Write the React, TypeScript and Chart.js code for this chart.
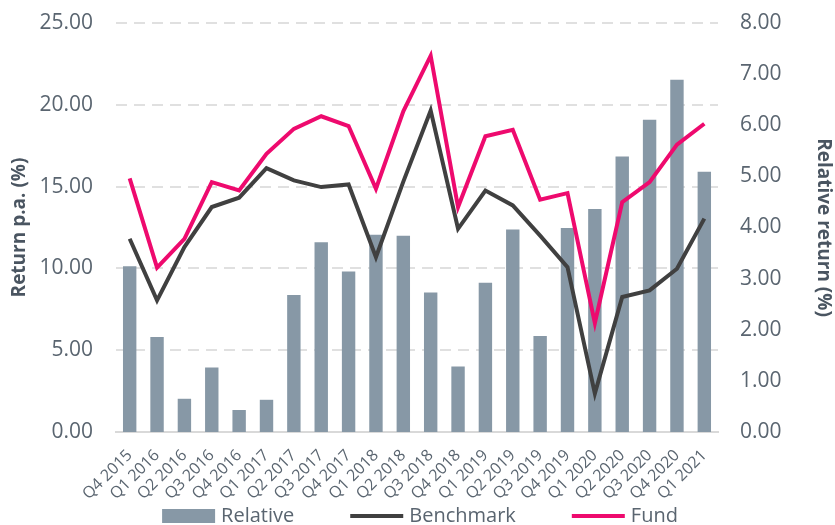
import React, { useEffect, useRef } from "react";
import { Chart, registerables } from "chart.js";

Chart.register(...registerables);

const categories = [
  "Q4 2015", "Q1 2016", "Q2 2016", "Q3 2016", "Q4 2016", "Q1 2017", "Q2 2017", "Q3 2017",
  "Q4 2017", "Q1 2018", "Q2 2018", "Q3 2018", "Q4 2018", "Q1 2019", "Q2 2019", "Q3 2019",
  "Q4 2019", "Q1 2020", "Q2 2020", "Q3 2020", "Q4 2020", "Q1 2021",
];

const relative = [
  3.24, 1.86, 0.65, 1.26, 0.43, 0.63, 2.68, 3.71, 3.14, 3.86, 3.84, 2.73, 1.28, 2.92, 3.96,
  1.88, 3.99, 4.36, 5.39, 6.11, 6.89, 5.09,
];

const benchmark = [
  11.81, 8.05, 11.3, 13.75, 14.32, 16.13, 15.38, 14.97, 15.13, 10.69, 15.3, 19.65, 12.42,
  14.76, 13.85, 12.0, 10.08, 2.35, 8.25, 8.66, 9.98, 13.04,
];

const fund = [
  15.5, 10.05, 11.8, 15.27, 14.76, 17.0, 18.53, 19.3, 18.7, 14.87, 19.6, 23.0, 13.75, 18.08,
  18.47, 14.2, 14.6, 6.66, 14.05, 15.27, 17.57, 18.84,
];

const leftTicks = { min: 0, max: 25, step: 5 };
const rightTicks = { min: 0, max: 8, step: 1 };

const BAR_COLOR = "#8798a6";
const BENCH_COLOR = "#404040";
const FUND_COLOR = "#ee0a6e";
const TEXT_COLOR = "#5a6570";
const TITLE_COLOR = "#4a5561";
const FONT = '"Open Sans", "Noto Sans", sans-serif';

const legendPlugin = {
  id: "customLegend",
  afterDraw(chart: any) {
    const ctx = chart.ctx;
    ctx.save();
    ctx.font = `20px ${FONT}`;
    const items = chart.data.datasets.map((d: any) => ({
      label: d.label,
      type: d.type,
      color: d.type === "bar" ? d.backgroundColor : d.borderColor,
    }));
    const sw = 53;
    const g = 6;
    const gap = 56;
    const widths = items.map((it: any) => sw + g + ctx.measureText(it.label).width);
    const total = widths.reduce((a: number, b: number) => a + b, 0) + gap * (items.length - 1);
    let x = 420 - total / 2;
    const y = 516;
    items.forEach((it: any, i: number) => {
      if (it.type === "bar") {
        ctx.fillStyle = it.color;
        ctx.fillRect(x, y - 7, sw, 14);
      } else {
        ctx.strokeStyle = it.color;
        ctx.lineWidth = 4;
        ctx.beginPath();
        ctx.moveTo(x, y);
        ctx.lineTo(x + sw, y);
        ctx.stroke();
      }
      ctx.fillStyle = TEXT_COLOR;
      ctx.textBaseline = "middle";
      ctx.textAlign = "left";
      ctx.fillText(it.label, x + sw + g, y);
      x += widths[i] + gap;
    });
    ctx.restore();
  },
};

export default function App() {
  const ref = useRef<HTMLCanvasElement | null>(null);

  useEffect(() => {
    document.body.style.margin = "0";
    const canvas = ref.current;
    if (!canvas) return;
    const chart = new Chart(canvas, {
      type: "bar",
      data: {
        labels: categories,
        datasets: [
          {
            type: "bar",
            label: "Relative",
            data: relative,
            backgroundColor: BAR_COLOR,
            borderWidth: 0,
            yAxisID: "y1",
            order: 3,
            barPercentage: 0.49,
            categoryPercentage: 1,
          },
          {
            type: "line",
            label: "Benchmark",
            data: benchmark,
            borderColor: BENCH_COLOR,
            backgroundColor: BENCH_COLOR,
            borderWidth: 4,
            pointRadius: 0,
            fill: false,
            tension: 0,
            yAxisID: "y",
            order: 2,
          },
          {
            type: "line",
            label: "Fund",
            data: fund,
            borderColor: FUND_COLOR,
            backgroundColor: FUND_COLOR,
            borderWidth: 4,
            pointRadius: 0,
            fill: false,
            tension: 0,
            yAxisID: "y",
            order: 1,
          },
        ] as any,
      },
      options: {
        animation: false,
        responsive: false,
        devicePixelRatio: 1,
        layout: { padding: { top: 23, bottom: 22, left: 0, right: 0 } },
        plugins: {
          legend: { display: false },
          tooltip: { enabled: false },
        },
        scales: {
          x: {
            offset: true,
            grid: { display: false, drawTicks: false },
            border: { display: true, color: "#d9d9d9", width: 2 },
            ticks: {
              autoSkip: false,
              maxRotation: 45,
              minRotation: 45,
              padding: 14,
              color: TEXT_COLOR,
              font: { family: FONT, size: 16 },
            },
            afterFit: (s: any) => {
              s.height = 525 - 432 - 22;
            },
          },
          y: {
            position: "left",
            min: leftTicks.min,
            max: leftTicks.max,
            ticks: {
              stepSize: leftTicks.step,
              padding: 23,
              color: TEXT_COLOR,
              font: { family: FONT, size: 21 },
              callback: (v: any) => Number(v).toFixed(2),
            },
            grid: {
              drawTicks: false,
              color: (c: any) => (c.tick && c.tick.value === 0 ? "rgba(0,0,0,0)" : "#e0e0e0"),
              lineWidth: 2,
            },
            border: { display: false, dash: [11, 7] },
            title: {
              display: true,
              text: "Return p.a. (%)",
              color: TITLE_COLOR,
              font: { family: FONT, size: 19, weight: "bold" },
              padding: { top: 8, bottom: 0 },
            },
            afterFit: (s: any) => {
              s.width = 116;
              s.paddingTop = 0;
              s.paddingBottom = 0;
            },
          },
          y1: {
            position: "right",
            min: rightTicks.min,
            max: rightTicks.max,
            ticks: {
              stepSize: rightTicks.step,
              padding: 22,
              color: TEXT_COLOR,
              font: { family: FONT, size: 21 },
              callback: (v: any) => Number(v).toFixed(2),
            },
            grid: { display: false, drawTicks: false },
            border: { display: false },
            title: {
              display: true,
              text: "Relative return (%)",
              color: TITLE_COLOR,
              font: { family: FONT, size: 19, weight: "bold" },
              padding: { top: 0, bottom: 0 },
            },
            afterFit: (s: any) => {
              s.width = 117;
              s.paddingTop = 0;
              s.paddingBottom = 0;
            },
          },
        },
      } as any,
      plugins: [legendPlugin],
    });
    return () => chart.destroy();
  }, []);

  return (
    <div style={{ width: 835, height: 525, background: "#ffffff" }}>
      <canvas ref={ref} width={835} height={525} style={{ display: "block" }} />
    </div>
  );
}
